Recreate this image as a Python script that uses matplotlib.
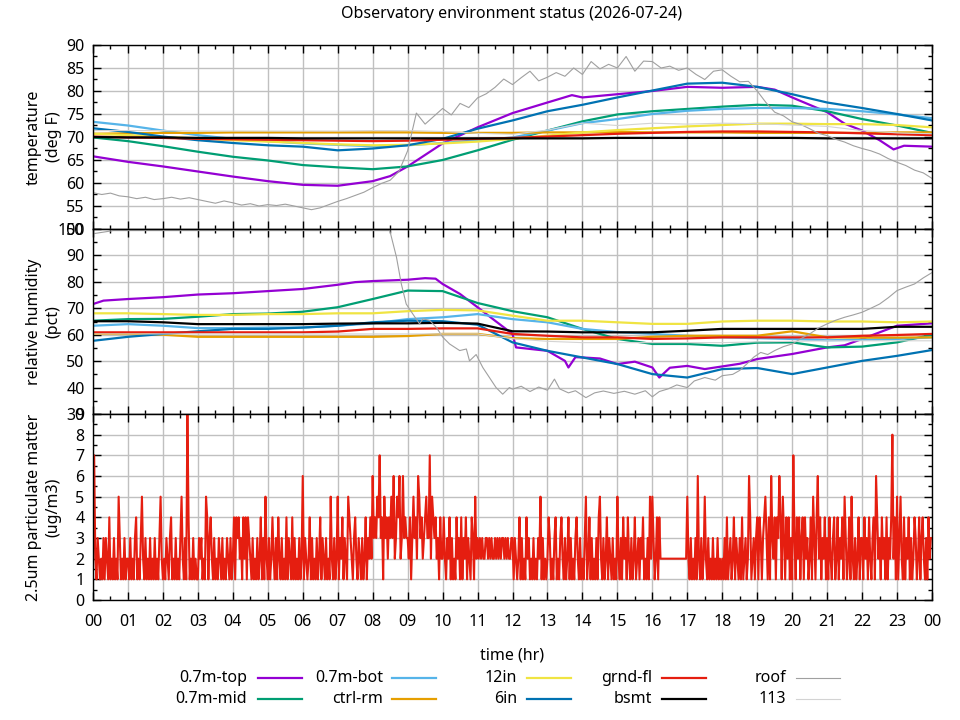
import matplotlib
matplotlib.use("Agg")
import matplotlib.pyplot as plt
from matplotlib.lines import Line2D
from matplotlib.ticker import MultipleLocator

plt.rcParams["font.family"] = ["Noto Sans", "DejaVu Sans"]
plt.rcParams["font.size"] = 11.5

# ---- data ----
hours = list(range(25))
hour_labels = [f"{h % 24:02d}" for h in hours]

series_names = ["0.7m-top", "0.7m-mid", "0.7m-bot", "ctrl-rm", "12in",
                "6in", "grnd-fl", "bsmt", "roof", "113"]

# temperature (deg F), hourly
temp_top_t = [0, 1, 2, 3, 4, 5, 6, 7, 8, 8.5, 9, 10, 11, 12, 13, 13.7, 14,
              15, 16, 17, 18, 19, 19.5, 20, 21, 21.5, 22, 22.5, 22.9, 23.2, 24]
temp_top = [65.8, 64.6, 63.6, 62.5, 61.4, 60.4, 59.6, 59.4, 60.4, 61.5, 63.6,
            68.6, 72.1, 75.2, 77.5, 79.1, 78.6, 79.3, 80.0, 80.9, 80.7, 80.9,
            80.3, 78.6, 75.4, 72.9, 71.4, 69.3, 67.3, 68.1, 67.9]
temp_mid = [69.9, 69.1, 68.0, 66.8, 65.7, 64.9, 63.9, 63.4, 63.0, 63.6, 65.0,
            67.1, 69.4, 71.4, 73.4, 74.9, 75.6, 76.1, 76.6, 77.0, 76.8, 75.6,
            73.9, 72.5, 70.9]
temp_bot = [73.3, 72.5, 71.4, 70.4, 69.6, 69.1, 68.6, 68.3, 68.0, 68.2, 68.7,
            69.3, 69.9, 71.4, 73.0, 73.9, 75.0, 75.7, 76.1, 76.3, 76.3, 76.1,
            75.6, 74.9, 74.1]
temp_ctrl = [70.7, 70.8, 70.9, 70.9, 71.0, 71.0, 71.0, 71.0, 71.0, 71.0, 70.9,
             70.9, 70.9, 71.0, 71.0, 71.1, 71.0, 71.0, 71.0, 70.9, 70.9, 70.9,
             70.9, 71.0, 71.0]
temp_12in = [70.7, 70.4, 70.0, 69.7, 69.3, 69.0, 68.7, 68.4, 68.2, 68.3, 68.6,
             69.0, 69.6, 70.3, 71.0, 71.5, 71.9, 72.3, 72.6, 72.9, 72.9, 72.8,
             72.8, 72.6, 72.1]
temp_6in = [71.9, 71.1, 70.1, 69.3, 68.7, 68.2, 67.9, 67.1, 67.5, 68.2, 69.6,
            71.8, 73.6, 75.6, 77.0, 78.6, 80.1, 81.6, 81.8, 80.9, 79.3, 77.5,
            76.3, 75.0, 73.6]
temp_grnd = [70.1, 69.9, 69.8, 69.6, 69.5, 69.4, 69.3, 69.2, 69.1, 69.2, 69.4,
             69.6, 69.8, 70.1, 70.4, 70.7, 70.9, 71.1, 71.2, 71.2, 71.1, 71.0,
             70.8, 70.6, 70.4]
temp_bsmt = [70.0, 69.9, 69.9, 69.8, 69.8, 69.8, 69.7, 69.7, 69.7, 69.7, 69.7,
             69.7, 69.7, 69.7, 69.7, 69.8, 69.8, 69.8, 69.8, 69.8, 69.8, 69.7,
             69.7, 69.7, 69.7]
temp_113 = [71.4, 71.4, 71.4, 71.3, 71.3, 71.3, 71.3, 71.3, 71.4, 71.4, 71.2,
            70.8, 70.6, 71.5, 73.0, 72.5, 73.0, 72.8, 73.0, 72.9, 72.6, 72.3,
            71.4, 70.9, 70.7]
# roof temperature, every 15 minutes
roof_temp_t = [q / 4 for q in range(97)]
roof_temp = [57.9, 57.5, 57.8, 57.2, 57.0, 56.6, 56.9, 56.4,
             56.6, 56.9, 56.5, 56.8, 56.4, 56.0, 55.6, 56.1,
             55.7, 55.2, 55.5, 55.0, 55.3, 55.1, 55.4, 55.0,
             54.6, 54.2, 54.6, 55.3, 56.0, 56.6, 57.3, 58.0,
             59.0, 59.9, 60.6, 62.5, 67.0, 75.2, 72.8, 74.5,
             76.2, 74.8, 77.3, 76.4, 78.5, 79.4, 80.8, 82.6,
             81.4, 82.9, 84.3, 82.2, 83.0, 84.0, 83.2, 85.0,
             83.6, 86.4, 84.8, 85.8, 85.0, 87.5, 84.3, 86.5,
             86.4, 85.0, 85.4, 84.5, 85.0, 83.6, 82.5, 84.3,
             84.6, 83.2, 82.0, 82.1, 80.0, 77.5, 75.4, 74.6,
             73.3, 72.7, 71.8, 70.8, 70.3, 69.5, 68.9, 68.1,
             67.5, 67.0, 66.3, 65.3, 64.5, 63.8, 62.8, 62.2, 61.0]

# relative humidity (pct)
hum_top_t = [0, 0.3, 1, 2, 3, 4, 5, 6, 7, 7.5, 8, 9, 9.5, 9.8, 10, 10.5, 11,
             11.5, 12, 12.1, 13, 13.5, 13.6, 13.8, 14, 14.5, 15, 15.5, 16,
             16.2, 16.5, 17, 17.5, 18, 18.5, 19, 20, 21, 21.5, 22, 22.5, 23, 24]
hum_top = [71.6, 72.9, 73.5, 74.2, 75.2, 75.7, 76.5, 77.3, 78.9, 79.9, 80.3,
           80.8, 81.4, 81.2, 79.2, 75.4, 70.4, 65.3, 60.3, 55.2, 53.9, 50.1,
           47.6, 51.5, 51.4, 51.0, 48.9, 49.8, 47.6, 43.8, 47.5, 48.2, 47.0,
           48.0, 49.0, 50.8, 52.7, 55.2, 56.0, 58.4, 60.9, 63.4, 64.3]
hum_mid = [65.3, 65.9, 66.0, 66.8, 67.8, 68.0, 68.7, 70.4, 73.5, 76.7, 76.5,
           72.0, 68.9, 66.6, 62.2, 58.4, 56.5, 56.5, 55.8, 57.0, 57.1, 55.2,
           55.5, 57.1, 60.0]
hum_bot = [63.4, 64.0, 63.4, 62.5, 62.5, 62.7, 62.7, 63.4, 64.3, 65.9, 66.6,
           67.8, 65.9, 64.7, 62.2, 61.0, 60.3, 59.6, 59.0, 58.7, 58.4, 57.9,
           58.1, 58.4, 59.0]
hum_ctrl = [60.3, 60.3, 60.0, 59.2, 59.2, 59.2, 59.2, 59.2, 59.2, 59.5, 60.3,
            60.3, 58.7, 58.4, 58.4, 58.4, 59.2, 59.6, 59.6, 59.6, 61.3, 59.0,
            58.9, 58.9, 59.0]
hum_12in = [68.1, 68.1, 67.8, 67.5, 67.5, 67.8, 67.8, 68.1, 68.1, 68.9, 69.4,
            69.2, 67.2, 65.3, 65.3, 64.7, 64.1, 64.1, 65.0, 65.3, 65.3, 65.0,
            65.0, 64.7, 65.0]
hum_6in = [57.7, 59.2, 60.3, 61.3, 62.2, 62.2, 62.7, 63.4, 64.7, 65.3, 65.1,
           63.8, 57.1, 53.9, 51.4, 48.9, 45.1, 43.8, 47.0, 47.4, 45.1, 47.6,
           50.1, 52.0, 54.2]
hum_grnd = [60.9, 60.9, 60.9, 60.9, 60.9, 60.9, 60.9, 61.2, 62.2, 62.2, 62.4,
            62.4, 60.3, 59.6, 59.0, 59.0, 58.4, 58.6, 59.0, 59.0, 59.0, 59.0,
            59.6, 59.9, 60.3]
hum_bsmt = [65.1, 65.1, 64.7, 64.0, 64.0, 64.0, 64.0, 64.2, 64.3, 64.3, 64.5,
            64.2, 61.3, 61.2, 60.9, 60.9, 60.9, 61.5, 62.2, 62.2, 62.2, 62.2,
            62.2, 63.0, 63.0]
hum_113 = [60.3, 60.3, 60.3, 60.3, 60.3, 60.3, 60.3, 60.3, 60.3, 60.3, 60.3,
           60.3, 58.5, 57.5, 57.0, 57.0, 57.0, 57.0, 57.0, 57.3, 57.5, 57.7,
           57.7, 57.7, 57.7]
roof_hum_t = [0, 0.58, 8.49, 8.68, 8.82, 8.96, 9.15, 9.34, 9.44, 9.63, 9.82,
              10.01, 10.2, 10.49, 10.68, 10.77, 10.96, 11.15, 11.34, 11.53,
              11.72, 11.91, 12.0, 12.25, 12.5, 12.75, 13.0, 13.2, 13.35, 13.6,
              13.8, 14.1, 14.35, 14.6, 14.9, 15.2, 15.5, 15.8, 16.0, 16.2,
              16.45, 16.7, 17.0, 17.2, 17.5, 17.8, 18.0, 18.3, 18.5, 18.7,
              18.9, 19.1, 19.3, 19.5, 19.75, 20.0, 20.25, 20.5, 20.75, 21.0,
              21.25, 21.5, 21.75, 22.0, 22.25, 22.5, 22.75, 23.0, 23.25, 23.5,
              23.75, 24.0]
roof_hum = [98.2, 99.4, 99.4, 89.4, 79.2, 71.6, 67.8, 64.1, 66.0, 65.4, 62.8,
            59.0, 56.5, 54.0, 54.6, 50.1, 52.5, 47.6, 43.8, 40.0, 37.5, 40.0,
            39.4, 40.5, 38.5, 40.2, 39.0, 43.2, 39.5, 38.0, 38.8, 36.2, 38.0,
            38.7, 37.8, 38.6, 37.5, 38.8, 36.5, 38.5, 39.5, 41.0, 40.0, 42.5,
            43.8, 42.8, 44.5, 45.0, 46.5, 48.9, 51.5, 53.3, 52.5, 54.0, 55.5,
            56.5, 58.5, 60.3, 62.5, 64.1, 65.5, 66.6, 67.5, 68.5, 70.0, 71.6,
            74.0, 76.7, 78.0, 79.2, 81.5, 83.5]

# 2.5um particulate matter (ug/m3), 30 readings per hour
pm25_by_hour = [
    "272132121313214121312153121312", "213121341213521312131213121352",
    "121321341213121352131941213121", "132312154134213121321312132131",
    "241434231424143213121312413152", "131242131421312141321413121312",
    "613212413121312413213121521312", "513241321543213421321312413242",
    "634354734153424353623546236343", "324135342653423453372543423142",
    "242132413121423141324132143152", "323232233232322323232332323223",
    "313212413121423121312132513121", "243121341213421312413121342131",
    "213512413121314521312413213121", "521314231421312412313241213152",
    "531241422222222222222222222222", "521312131621312521312131213121",
    "213141231241321314123126412313", "414313453141632414364153142413",
    "173142413414231241531462413241", "314213412413241531241521312413",
    "314231421341642314231413248241", "513521413241312431241342131423",
]
pm25_last = 3

temp_series = [
    (temp_top_t, temp_top), (hours, temp_mid), (hours, temp_bot),
    (hours, temp_ctrl), (hours, temp_12in), (hours, temp_6in),
    (hours, temp_grnd), (hours, temp_bsmt), (roof_temp_t, roof_temp),
    (hours, temp_113),
]
hum_series = [
    (hum_top_t, hum_top), (hours, hum_mid), (hours, hum_bot),
    (hours, hum_ctrl), (hours, hum_12in), (hours, hum_6in),
    (hours, hum_grnd), (hours, hum_bsmt), (roof_hum_t, roof_hum),
    (hours, hum_113),
]

colors = ["#9400D3", "#009E73", "#56B4E9", "#E69F00", "#F0E442",
          "#0072B2", "#E51E10", "#000000", "#a0a0a0", "#d3d3d3"]
widths = [1.6, 1.6, 1.6, 1.6, 1.6, 1.6, 1.6, 1.6, 0.8, 0.8]

pm_vals = [int(c) for s in pm25_by_hour for c in s] + [pm25_last]
pm_t = [k / 30 for k in range(len(pm_vals))]

# ---- figure ----
fig = plt.figure(figsize=(9.6, 7.2), dpi=100)
L, R = 93 / 960, 932 / 960


def panel(top_px, bot_px):
    return fig.add_axes([L, 1 - bot_px / 720, R - L, (bot_px - top_px) / 720])


ax_t = panel(45, 229)
ax_h = panel(229, 414)
ax_p = panel(414, 600)

for ax in (ax_t, ax_h, ax_p):
    ax.set_xlim(0, 24)
    ax.set_xticks(hours)
    ax.xaxis.set_minor_locator(MultipleLocator(0.5))
    ax.tick_params(which="both", direction="in", top=True, right=True,
                   colors="black")
    ax.tick_params(which="major", length=6, width=1)
    ax.tick_params(which="minor", length=3, width=1)
    ax.tick_params(axis="y", pad=6)
    ax.grid(True, which="major", color="#c0c0c0", linewidth=1)
    ax.set_axisbelow(True)
    for sp in ax.spines.values():
        sp.set_linewidth(1)

for (tx, ty), c, w in zip(temp_series, colors, widths):
    ax_t.plot(tx, ty, color=c, linewidth=w)
ax_t.set_ylim(50, 90)
ax_t.set_yticks(range(50, 91, 5))
ax_t.yaxis.set_minor_locator(MultipleLocator(2.5))
ax_t.tick_params(axis="x", labelbottom=False)

for (tx, ty), c, w in zip(hum_series, colors, widths):
    ax_h.plot(tx, ty, color=c, linewidth=w)
ax_h.set_ylim(30, 100)
ax_h.set_yticks(range(30, 101, 10))
ax_h.yaxis.set_minor_locator(MultipleLocator(5))
ax_h.tick_params(axis="x", labelbottom=False)

ax_p.plot(pm_t, pm_vals, color=colors[6], linewidth=1.5)
ax_p.set_ylim(0, 9)
ax_p.set_yticks(range(0, 10))
ax_p.yaxis.set_minor_locator(MultipleLocator(0.5))
ax_p.set_xticklabels(hour_labels)
ax_p.tick_params(axis="x", pad=10)

fig.text(512 / 960, 1 - 14 / 720, "Observatory environment status (2026-07-24)",
         ha="center", va="center")
fig.text(512 / 960, 1 - 655 / 720, "time (hr)", ha="center", va="center")
for label, yc in [("temperature\n(deg F)", 137),
                  ("relative humidity\n(pct)", 322),
                  ("2.5um particulate matter\n(ug/m3)", 507)]:
    fig.text(44 / 960, 1 - yc / 720, label, rotation=90, ha="center",
             va="center", linespacing=1.3)

# legend, gnuplot style: label then sample line, 5 columns x 2 rows
col_text_right = [247, 383, 517, 652, 786]
col_line = [(258, 302), (392, 436), (527, 571), (662, 706), (796, 840)]
row_y = [678, 699]
for i, name in enumerate(series_names):
    col, row = divmod(i, 2)
    yf = 1 - row_y[row] / 720
    fig.text(col_text_right[col] / 960, yf, name, ha="right", va="center")
    x0, x1 = col_line[col]
    fig.add_artist(Line2D([x0 / 960, x1 / 960], [yf, yf],
                          transform=fig.transFigure, color=colors[i],
                          linewidth=widths[i]))

fig.savefig("out.png", dpi=100)
